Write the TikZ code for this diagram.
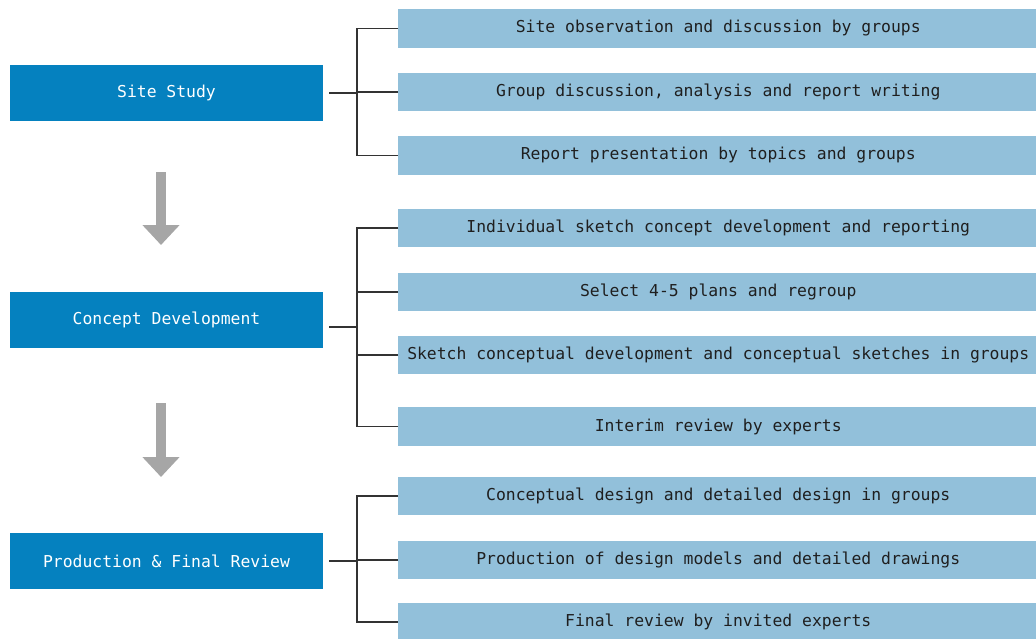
\documentclass[tikz,border=0pt]{standalone}
\usepackage{fontspec}
\usepackage{tikz}
\usetikzlibrary{arrows.meta}
\newfontfamily\boxfont{DejaVu Sans Mono}
\definecolor{phaseblue}{HTML}{0581BF}
\definecolor{taskblue}{HTML}{92C0DA}
\definecolor{arrowgray}{HTML}{A6A6A6}
\definecolor{linegray}{HTML}{333333}

\begin{document}
\begin{tikzpicture}[x=0.75pt, y=-0.75pt,
        every node/.style={font=\boxfont\fontsize{12.3}{14}\selectfont},
        phase/.style={fill=phaseblue, text=white, minimum width=234.75pt,
        minimum height=42pt, inner sep=0pt},
        task/.style={fill=taskblue, text=black!88, anchor=west,
        minimum width=480pt, minimum height=28.9pt, inner sep=0pt},
        branch/.style={draw=linegray, line width=1.2pt},
        flow/.style={draw=arrowgray, line width=7.5pt,
        -{Triangle[width=27pt,length=15pt]}}]
        \useasboundingbox (0,0) rectangle (1036,639);
        \node[phase] (site) at (166.5,93) {Site Study};
        \node[phase] (concept) at (166.5,319.5) {Concept Development};
        \node[phase] (final) at (166.5,561) {Production \& Final Review};
        \foreach \n/\y/\t in {t1/28.5/{Site observation and discussion by groups},
        t2/92/{Group discussion, analysis and report writing},
        t3/155.5/{Report presentation by topics and groups},
        t4/228/{Individual sketch concept development and reporting},
        t5/292/{Select 4-5 plans and regroup},
        t6/355/{Sketch conceptual development and conceptual sketches in groups},
        t7/426.5/{Interim review by experts},
        t8/496/{Conceptual design and detailed design in groups},
        t9/560/{Production of design models and detailed drawings},
        t10/622/{Final review by invited experts}}
        \node[task] (\n) at (398,\y) {\t};
        \coordinate (j1) at (357,93);
        \coordinate (j2) at (357,327);
        \coordinate (j3) at (357,561);
        \draw[branch] (t1.west) -| (j1) |- (t3.west);
        \draw[branch] (t2.west) -- (t2.west -| j1);
        \draw[branch] (site.east) ++(6,0) -- (j1);
        \draw[branch] (t4.west) -| (j2) |- (t7.west);
        \foreach \n in {t5,t6}
        \draw[branch] (\n.west) -- (\n.west -| j2);
        \draw[branch] (concept.east |- j2) ++(6,0) -- (j2);
        \draw[branch] (t8.west) -| (j3) |- (t10.west);
        \draw[branch] (t9.west) -- (t9.west -| j3);
        \draw[branch] (final.east) ++(6,0) -- (j3);
        \coordinate (a1) at (161,172);
        \coordinate (b1) at (161,245);
        \coordinate (a2) at (161,403);
        \coordinate (b2) at (161,477);
        \draw[flow] (a1) -- (b1);
        \draw[flow] (a2) -- (b2);
\end{tikzpicture}
\end{document}
